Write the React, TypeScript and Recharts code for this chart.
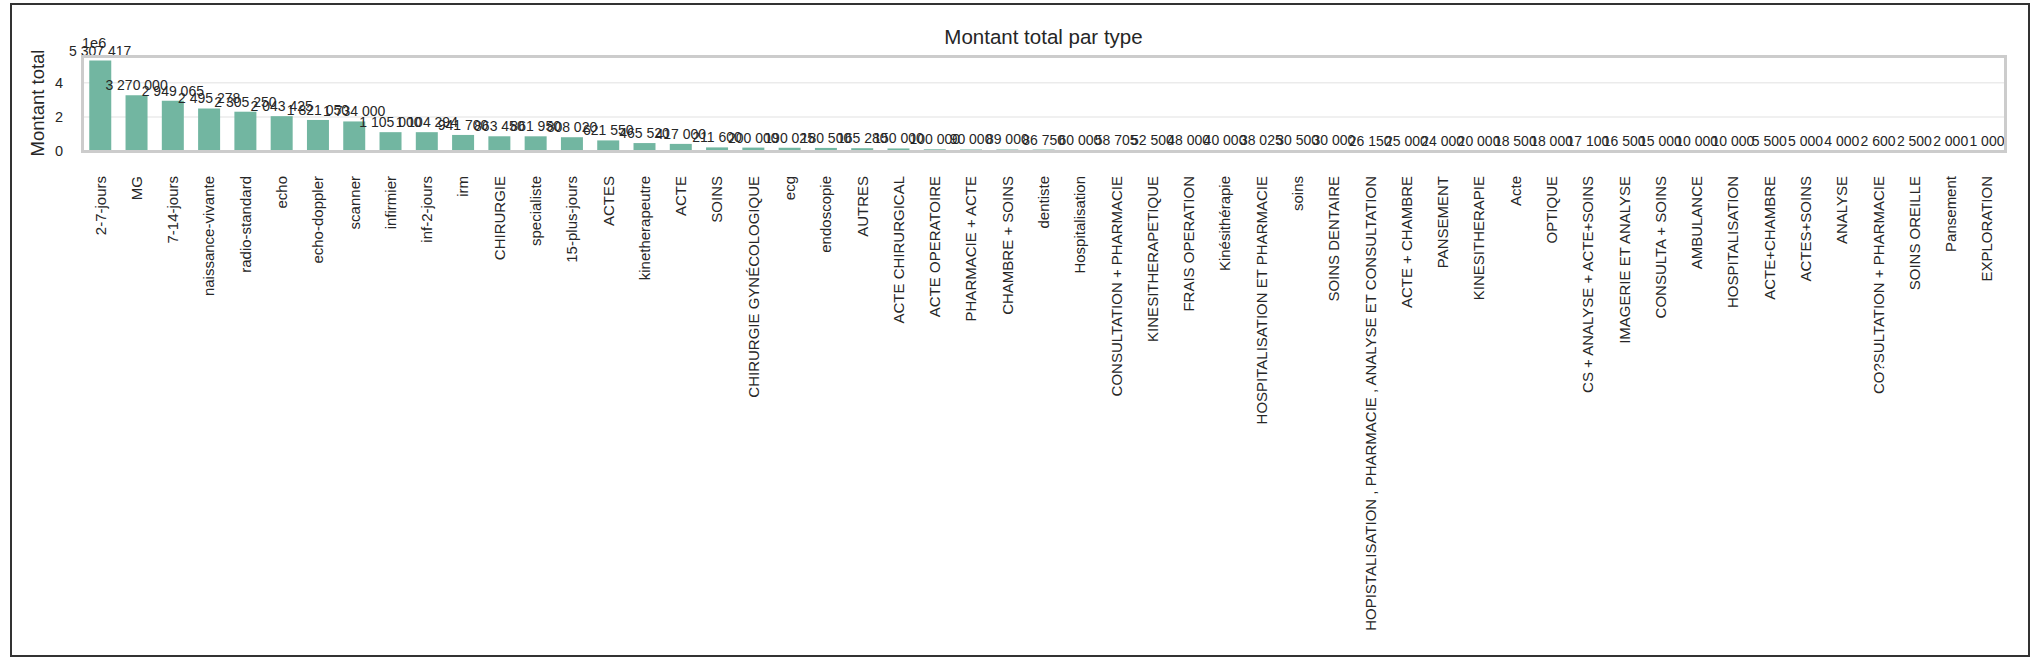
import React from 'react';
import { BarChart, Bar, XAxis, YAxis, CartesianGrid, LabelList } from 'recharts';

const categories: string[] = [
  '2-7-jours', 'MG', '7-14-jours', 'naissance-vivante', 'radio-standard', 'echo', 'echo-doppler', 'scanner',
  'infirmier', 'inf-2-jours', 'irm', 'CHIRURGIE', 'specialiste', '15-plus-jours', 'ACTES', 'kinetherapeutre',
  'ACTE', 'SOINS', 'CHIRURGIE GYNÉCOLOGIQUE', 'ecg', 'endoscopie', 'AUTRES', 'ACTE CHIRURGICAL',
  'ACTE OPERATOIRE', 'PHARMACIE + ACTE', 'CHAMBRE + SOINS', 'dentiste', 'Hospitalisation',
  'CONSULTATION + PHARMACIE', 'KINESITHERAPETIQUE', 'FRAIS OPERATION', 'Kinésithérapie',
  'HOSPITALISATION ET PHARMACIE', 'soins', 'SOINS DENTAIRE',
  'HOPISTALISATION , PHARMACIE , ANALYSE ET CONSULTATION', 'ACTE + CHAMBRE', 'PANSEMENT', 'KINESITHERAPIE',
  'Acte', 'OPTIQUE', 'CS + ANALYSE + ACTE+SOINS', 'IMAGERIE ET ANALYSE', 'CONSULTA + SOINS', 'AMBULANCE',
  'HOSPITALISATION', 'ACTE+CHAMBRE', 'ACTES+SOINS', 'ANALYSE', 'CO?SULTATION + PHARMACIE', 'SOINS OREILLE',
  'Pansement', 'EXPLORATION',
];

const montants: number[] = [
  5307417, 3270000, 2949065, 2495278, 2305250, 2043425, 1821050, 1734000,
  1105000, 1104294, 941700, 863450, 861950, 808020, 621550, 465520,
  417000, 211600, 200000, 190025, 180500, 165280, 150000,
  100000, 90000, 89000, 86750, 60000,
  58705, 52500, 48000, 40000,
  38025, 30500, 30000,
  26150, 25000, 24000, 20000,
  18500, 18000, 17100, 16500, 15000, 10000,
  10000, 5500, 5000, 4000, 2600, 2500,
  2000, 1000,
];

const yTicks: number[] = [0, 2000000, 4000000];

const data = categories.map((name, i) => ({ name, value: montants[i] }));

const FONT = '"Liberation Sans", Arial, Helvetica, sans-serif';
const W = 2040;
const H = 660;
const PLOT_LEFT = 82;
const PLOT_RIGHT = 2005;
const PLOT_TOP = 56;
const PLOT_BOTTOM = 151;

const fmt = (v: number) => String(Math.round(v)).replace(/\B(?=(\d{3})+(?!\d))/g, ' ');

const XTick = (props: any) => {
  const { x, y, payload } = props;
  return (
    <text
      x={x}
      y={y}
      transform={`rotate(-90, ${x}, ${y})`}
      textAnchor="end"
      dominantBaseline="central"
      fontSize={15}
      fontFamily={FONT}
      fill="#262626"
    >
      {payload.value}
    </text>
  );
};

const BarLabel = (props: any) => {
  const { x, y, width, value } = props;
  return (
    <text
      x={x + width / 2}
      y={y - 5}
      textAnchor="middle"
      fontSize={14}
      fontFamily={FONT}
      fill="#262626"
    >
      {fmt(value)}
    </text>
  );
};

export default function App() {
  return (
    <div style={{ position: 'absolute', left: 0, top: 0, width: W, height: H, background: '#fff', fontFamily: FONT }}>
      <div
        style={{
          position: 'absolute', left: 10, top: 3, width: 2020, height: 654,
          border: '2px solid #333', boxSizing: 'border-box',
        }}
      />
      <div
        style={{
          position: 'absolute', left: PLOT_LEFT, width: PLOT_RIGHT - PLOT_LEFT, top: 27,
          textAlign: 'center', fontSize: 20.5, lineHeight: '20px', color: '#262626',
        }}
      >
        Montant total par type
      </div>
      <div
        style={{
          position: 'absolute', left: 38, top: 103, width: 0, height: 0,
        }}
      >
        <div
          style={{
            position: 'absolute', left: 0, top: 0, transform: 'translate(-50%, -50%) rotate(-90deg)',
            whiteSpace: 'nowrap', fontSize: 18.5, lineHeight: '18px', color: '#262626',
          }}
        >
          Montant total
        </div>
      </div>
      <div style={{ position: 'absolute', left: PLOT_LEFT, top: 36, fontSize: 14.5, lineHeight: '14px', color: '#262626' }}>
        1e6
      </div>
      <div style={{ position: 'absolute', left: 0, top: 0 }}>
        <BarChart
          width={W}
          height={H}
          data={data}
          margin={{ top: PLOT_TOP, right: W - PLOT_RIGHT, left: 0, bottom: 0 }}
          barCategoryGap="20%"
        >
          <CartesianGrid vertical={false} stroke="#ebebeb" strokeWidth={1.5} />
          <XAxis
            dataKey="name"
            interval={0}
            height={H - PLOT_BOTTOM}
            axisLine={false}
            tickLine={false}
            tickSize={6}
            tickMargin={19}
            tick={<XTick />}
          />
          <YAxis
            type="number"
            domain={[0, 5307417 * 1.05]}
            ticks={yTicks}
            width={PLOT_LEFT}
            axisLine={false}
            tickLine={false}
            tickSize={6}
            tickMargin={13}
            tickFormatter={(v: number) => String(v / 1000000)}
            tick={{ fontSize: 14.5, fontFamily: FONT, fill: '#262626' }}
          />
          <Bar dataKey="value" fill="#72b6a1" isAnimationActive={false}>
            <LabelList dataKey="value" content={<BarLabel />} />
          </Bar>
        </BarChart>
      </div>
      <div
        style={{
          position: 'absolute', left: PLOT_LEFT - 1.5, top: PLOT_TOP - 1.5,
          width: PLOT_RIGHT - PLOT_LEFT + 3, height: PLOT_BOTTOM - PLOT_TOP + 3,
          border: '3px solid #cccccc', boxSizing: 'border-box', pointerEvents: 'none',
        }}
      />
    </div>
  );
}
